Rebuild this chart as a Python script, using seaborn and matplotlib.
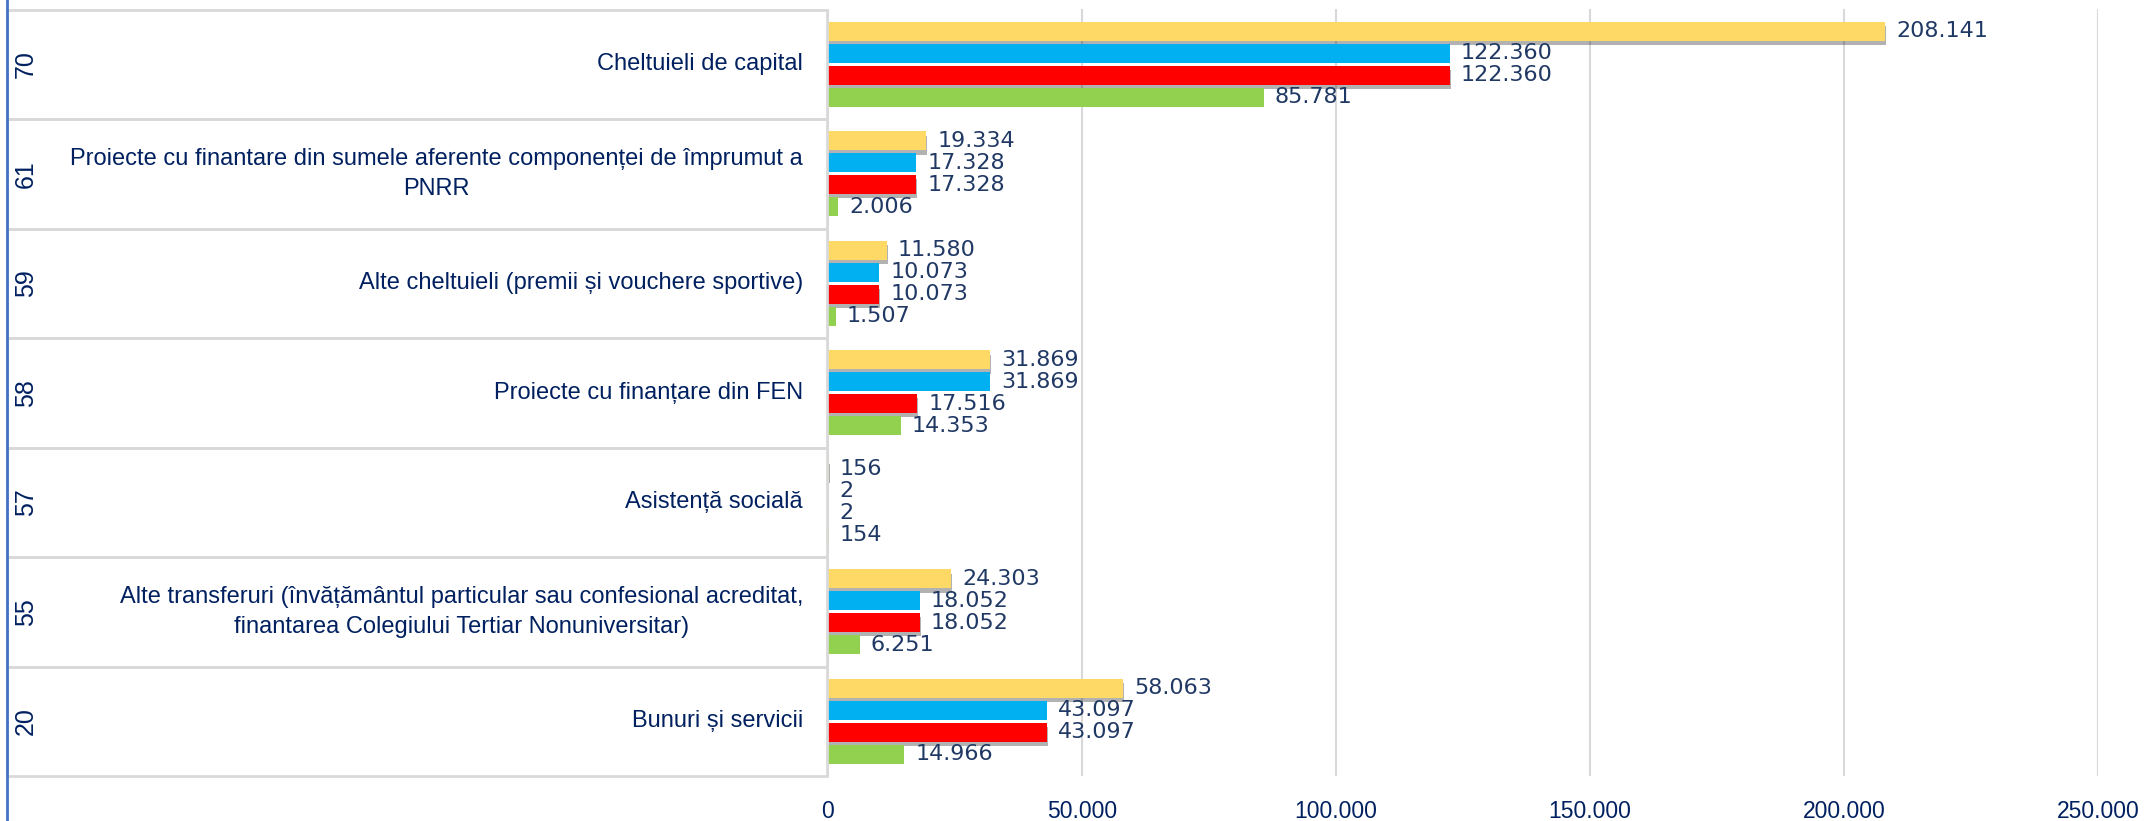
"""
Cheltuieli pe titluri - bare orizontale grupate, cu tabel de etichete in stanga
"""
import numpy as np
import pandas as pd
import matplotlib
matplotlib.use('Agg')
import matplotlib.pyplot as plt
import matplotlib.patheffects as pe
from matplotlib import font_manager
from matplotlib.lines import Line2D
from matplotlib.patches import Rectangle
from matplotlib.transforms import blended_transform_factory
import seaborn as sns

# date
CODURI = ["70", "61", "59", "58", "57", "55", "20"]
DENUMIRI = [
    "Cheltuieli de capital",
    "Proiecte cu finantare din sumele aferente componenței de împrumut a\nPNRR",
    "Alte cheltuieli (premii și vouchere sportive)",
    "Proiecte cu finanțare din FEN",
    "Asistență socială",
    "Alte transferuri (învățământul particular sau confesional acreditat,\nfinantarea Colegiului Tertiar Nonuniversitar)",
    "Bunuri și servicii",
]
SERII = ["Total", "Credite bugetare", "Execuție", "Diferență"]
TOTAL = [208141, 19334, 11580, 31869, 156, 24303, 58063]
CREDITE = [122360, 17328, 10073, 31869, 2, 18052, 43097]
EXECUTIE = [122360, 17328, 10073, 17516, 2, 18052, 43097]
DIFERENTA = [85781, 2006, 1507, 14353, 154, 6251, 14966]
CULORI = ["#FFD966", "#00B0F0", "#FF0000", "#92D050"]
X_TICKS = [0, 50000, 100000, 150000, 200000, 250000]

NAVY = "#002060"
NAVY_VAL = "#203864"

disponibile = {f.name for f in font_manager.fontManager.ttflist}
NARROW = "Liberation Sans Narrow" if "Liberation Sans Narrow" in disponibile else "Liberation Sans"

df = pd.DataFrame({
    "cod": CODURI * 4,
    "valoare": TOTAL + CREDITE + EXECUTIE + DIFERENTA,
    "serie": sum([[s] * len(CODURI) for s in SERII], []),
})


def fmt(v):
    return f"{v:,.0f}".replace(",", ".")


sns.set_style("white")
plt.rcParams['font.family'] = ['DejaVu Sans']

fig = plt.figure(figsize=(21.45, 8.21), dpi=100)
ax = fig.add_axes([828 / 2145, 1 - 776 / 821, (2098 - 828) / 2145, (776 - 9.5) / 821])

sns.barplot(data=df, y="cod", x="valoare", hue="serie", order=CODURI,
            hue_order=SERII, palette=CULORI, orient="h", width=0.8, gap=0.13,
            linewidth=0, saturation=1, legend=False, ax=ax)

# umbre pe barele galbene si rosii
for idx in (0, 2):
    for bar in ax.containers[idx]:
        bar.set_path_effects([
            pe.SimplePatchShadow(offset=(0.7, -3), shadow_rgbFace="black", alpha=0.3),
            pe.Normal(),
        ])

for cont in ax.containers:
    ax.bar_label(cont, labels=[fmt(v) for v in cont.datavalues], padding=8,
                 fontsize=16, color=NAVY_VAL, family="DejaVu Sans")

ax.set_xlim(0, 250000)
ax.set_ylim(6.5, -0.5)
ax.set_xticks(X_TICKS)
ax.set_xticklabels([fmt(v) for v in X_TICKS], fontsize=16.5, color=NAVY, family=NARROW)
ax.tick_params(axis="x", length=0, pad=17)
ax.set_yticks([])
ax.set_xlabel("")
ax.set_ylabel("")
ax.grid(axis="x", color="#D9D9D9", linewidth=1.5)
ax.set_axisbelow(True)
for s in ax.spines.values():
    s.set_visible(False)

# tabelul din stanga (coduri + denumiri)
tr = blended_transform_factory(fig.transFigure, ax.transData)
x0, x1 = 7 / 2145, 827 / 2145
for k, (cod, den) in enumerate(zip(CODURI, DENUMIRI)):
    ax.add_patch(Rectangle((x0, k - 0.5), x1 - x0, 1.0, transform=tr,
                           facecolor="none", edgecolor="#D9D9D9", linewidth=2,
                           clip_on=False))
    ax.text(26 / 2145, k, cod, transform=tr, rotation=90, ha="center", va="center",
            fontsize=18, color=NAVY, family="Liberation Sans")
    ax.text(803 / 2145, k, den, transform=tr, ha="right", va="center",
            multialignment="center", linespacing=1.5,
            fontsize=17, color=NAVY, family=NARROW)

fig.add_artist(Line2D([7 / 2145, 7 / 2145], [0, 1], color="#4472C4", linewidth=2))

plt.savefig("out.png", dpi=100)
plt.close()
